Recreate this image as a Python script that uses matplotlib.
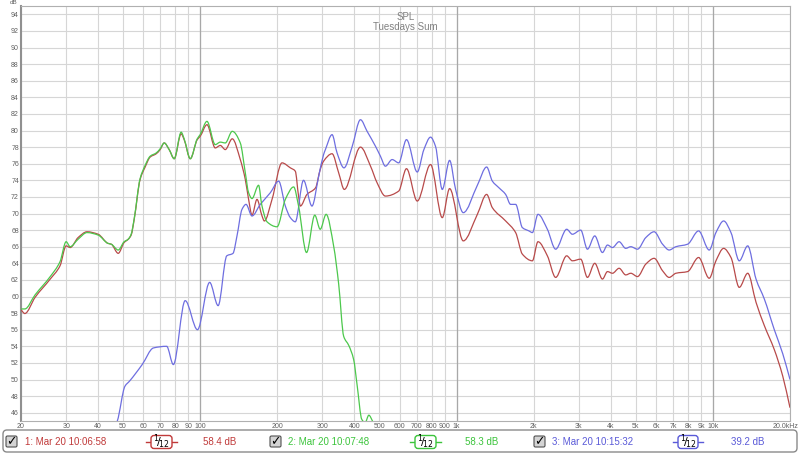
import numpy as np
import matplotlib
matplotlib.use('Agg')
import matplotlib.pyplot as plt
from matplotlib.patches import FancyBboxPatch, PathPatch
from matplotlib.path import Path
from matplotlib.transforms import ScaledTranslation

plt.rcParams['font.family'] = ['Liberation Sans', 'DejaVu Sans']

# trace 1 (red)
red_freq = [20, 20.7, 22.7, 26.0, 28.4, 30.0, 31.1, 33.4, 36.2, 40, 43.7, 45, 47.9, 50.5,
            52.4, 53.8, 55.3, 58.3, 61.0, 63.8, 67.4, 69.8, 72.4, 75.7, 79.2, 84.3, 86.6,
            91.5, 97.4, 100, 106.3, 114.5, 119.8, 125.3, 133.4, 143.4, 150, 154.5, 159.3,
            166.6, 174.3, 178, 190.7, 208.6, 224.8, 235, 242, 246, 261, 282, 294, 303, 327,
            347, 365, 422, 462, 490, 528, 595, 638, 703, 792, 880, 940, 1063, 1206, 1311,
            1380, 1555, 1701, 1807, 1977, 2079, 2262, 2437, 2691, 2832, 3052, 3242, 3462,
            3710, 3881, 4060, 4308, 4574, 4785, 5082, 5476, 5902, 6366, 6755, 7175, 7970,
            8800, 9680, 10282, 11020, 11770, 12680, 13680, 14740, 15880, 17370, 18740, 20000]
red_db = [58.4, 57.95, 59.9, 62.1, 63.7, 66.1, 65.9, 67.1, 67.8, 67.5, 66.4, 66.3, 65.2, 66.5,
          66.9, 67.4, 69.3, 74.1, 75.6, 76.8, 77.2, 77.7, 78.5, 77.7, 76.6, 79.6, 78.9,
          76.6, 78.9, 79.3, 80.7, 77.9, 78.2, 77.7, 79.0, 76.5, 74.1, 71.7, 69.8,
          71.7, 69.7, 69.1, 71.7, 76.1, 75.5, 75.1, 72.1, 70.9, 72.3, 73.1, 75.3, 76.3, 77.2,
          74.9, 72.9, 78.0, 75.7, 73.7, 72.1, 72.7, 75.4, 71.5, 75.9, 69.5, 73.0, 66.7, 69.9, 72.3,
          70.7, 69.1, 67.7, 65.1, 64.3, 66.6, 64.9, 62.3, 64.9, 64.3, 64.5, 62.3, 64.0,
          62.1, 63.0, 62.8, 63.4, 62.6, 62.8, 62.4, 63.9, 64.6, 63.1, 62.3, 62.8, 63.0,
          64.7, 62.2, 64.3, 65.8, 64.7, 61.1, 62.8, 59.3, 56.5, 53.6, 50.4, 46.6]

# trace 2 (green)
green_freq = [20, 20.7, 22.7, 26.0, 28.4, 30.0, 31.1, 33.4, 36.2, 40, 43.7, 45, 47.9, 50.5,
              52.4, 53.8, 55.3, 58.3, 61.0, 63.8, 67.4, 69.8, 72.4, 75.7, 79.2, 84.3, 86.6,
              91.5, 97.4, 100, 106.3, 114.5, 119.8, 125.3, 133.4, 143.4, 150, 154.5, 159.3,
              169, 174, 182.3, 199.5, 214.9, 231.6, 242, 260, 280, 294, 310, 332, 347, 363,
              380, 397, 410, 427, 440, 455, 470, 490, 520]
green_db = [58.5, 58.5, 60.2, 62.4, 64.2, 66.6, 66.0, 66.9, 67.7, 67.4, 66.4, 66.3, 65.6, 66.6,
            66.9, 67.5, 69.4, 74.2, 75.8, 76.9, 77.3, 77.8, 78.5, 77.7, 76.6, 79.8, 79.0,
            76.6, 79.0, 79.5, 81.1, 78.3, 78.6, 78.5, 79.9, 78.5, 74.9, 72.5, 71.8,
            73.4, 71.0, 69.0, 68.4, 71.7, 73.2, 70.9, 65.3, 69.8, 68.1, 69.9, 66.0, 61.5, 55.2,
            54.1, 52.4, 49.2, 45.2, 44.8, 45.7, 45.0, 43.5, 42.0]

# trace 3 (blue)
blue_freq = [45, 47.5, 50.9, 53, 59.4, 65.7, 74, 78.6, 87.4, 97.6, 108.9, 117.5, 127, 134.3,
             139.2, 145.6, 151, 159.3, 171.6, 187.8, 202.4, 214.9, 224.8, 235, 253, 273, 290,
             303, 308, 327, 342, 364, 392, 422, 448, 483, 505, 528, 561, 595, 638, 703, 746,
             792, 828, 880, 940, 992, 1063, 1206, 1311, 1380, 1464, 1555, 1626, 1701, 1807,
             1917, 1977, 2079, 2262, 2437, 2691, 2832, 3052, 3242, 3462, 3710, 3881, 4060,
             4308, 4574, 4785, 5082, 5476, 5902, 6366, 6755, 7175, 7970, 8800, 9680, 10282,
             11020, 11770, 12680, 13680, 14740, 15880, 17370, 18740, 20000]
blue_db = [43.5, 45.0, 49.2, 49.8, 51.8, 53.8, 54.0, 51.8, 59.5, 56.0, 61.7, 58.9, 64.9, 65.2,
           67.3, 70.5, 71.1, 69.7, 71.1, 72.5, 73.9, 70.9, 69.5, 69.0, 74.0, 70.9, 74.5,
           77.1, 77.7, 79.5, 77.3, 75.5, 78.1, 81.3, 79.9, 78.1, 76.9, 75.7, 76.5, 76.1, 78.9, 75.0, 77.7,
           79.2, 78.1, 72.9, 76.4, 72.9, 70.1, 73.4, 75.6, 73.9, 73.1, 72.3, 71.1, 71.1, 68.3,
           67.9, 67.7, 69.9, 68.1, 65.7, 68.1, 67.5, 68.0, 65.7, 67.3, 65.3, 66.2, 65.9,
           66.6, 65.8, 66.0, 65.7, 67.1, 67.8, 66.3, 65.6, 66.0, 66.3, 67.9, 65.6, 67.7,
           69.1, 67.7, 64.3, 66.1, 62.1, 59.7, 56.0, 53.1, 50.0]

x_ticks = [20, 30, 40, 50, 60, 70, 80, 90, 100, 200, 300, 400, 500, 600, 700, 800, 900,
           1000, 2000, 3000, 4000, 5000, 6000, 7000, 8000, 9000, 10000, 20000]
x_labels = ['20', '30', '40', '50', '60', '70', '80', '90', '100', '200', '300', '400', '500',
            '600', '700', '800', '900', '1k', '2k', '3k', '4k', '5k', '6k', '7k', '8k', '9k',
            '10k', '20.0kHz']
y_ticks = list(range(46, 95, 2))

names = ['1: Mar 20 10:06:58', '2: Mar 20 10:07:48', '3: Mar 20 10:15:32']
levels = ['58.4 dB', '58.3 dB', '39.2 dB']
line_colors = ['#b84a4a', '#4cc84c', '#6e6ee0']
text_colors = ['#c03a3a', '#3cc43c', '#5a5ad8']


def smooth_path(freq, db):
    # monotone cubic through the read points, built in log-frequency space
    u = np.log10(np.asarray(freq, float))
    y = np.asarray(db, float)
    h = np.diff(u)
    d = np.diff(y) / h
    m = np.zeros_like(y)
    m[0], m[-1] = d[0], d[-1]
    for i in range(1, len(y) - 1):
        if d[i - 1] * d[i] > 0:
            w1 = 2 * h[i] + h[i - 1]
            w2 = h[i] + 2 * h[i - 1]
            m[i] = (w1 + w2) / (w1 / d[i - 1] + w2 / d[i])
    verts = [(freq[0], y[0])]
    codes = [Path.MOVETO]
    for i in range(len(h)):
        verts += [(10 ** (u[i] + h[i] / 3), y[i] + m[i] * h[i] / 3),
                  (10 ** (u[i + 1] - h[i] / 3), y[i + 1] - m[i + 1] * h[i] / 3),
                  (freq[i + 1], y[i + 1])]
        codes += [Path.CURVE4] * 3
    return Path(verts, codes)


fig = plt.figure(figsize=(8, 4.55), dpi=100)
ax = fig.add_axes([21 / 800, 1 - 421 / 455, 769 / 800, 415 / 455])
ax.set_xscale('log')
ax.set_xlim(20, 20000)
ax.set_ylim(45, 95)

ax.set_xticks(x_ticks)
ax.set_xticklabels(x_labels)
ax.minorticks_off()
ax.set_yticks(y_ticks)
ax.tick_params(length=0, labelsize=5, colors='#606060', pad=1.5)
last = ax.get_xticklabels()[-1]
last.set_transform(last.get_transform() + ScaledTranslation(-4 / 100, 0, fig.dpi_scale_trans))
ax.grid(True, color='#d6d6d6', lw=0.8)
for f in [100, 1000, 10000]:
    ax.axvline(f, color='#a8a8a8', lw=0.9, zorder=1)
ax.set_axisbelow(True)
for side in ['top', 'right', 'bottom']:
    ax.spines[side].set_color('#b0b0b0')
    ax.spines[side].set_linewidth(0.8)
ax.spines['left'].set_color('#909090')
ax.spines['left'].set_linewidth(1.5)

for fr, db, col, z in [(red_freq, red_db, line_colors[0], 3),
                       (green_freq, green_db, line_colors[1], 4),
                       (blue_freq, blue_db, line_colors[2], 3)]:
    ax.add_patch(PathPatch(smooth_path(fr, db), fill=False, edgecolor=col, lw=0.9, zorder=z))

ax.text(0.5, 0.985, 'SPL', transform=ax.transAxes, ha='center', va='top',
        fontsize=7, color='#808080')
ax.text(0.5, 0.962, 'Tuesdays Sum', transform=ax.transAxes, ha='center', va='top',
        fontsize=7, color='#808080')
fig.text(14 / 800, 1 - 2 / 455, 'dB', fontsize=4.5, color='#606060', ha='center', va='center')

# legend strip drawn in pixel coordinates
lay = fig.add_axes([0, 0, 1, 1])
lay.set_xlim(0, 800)
lay.set_ylim(455, 0)
lay.axis('off')
lay.add_patch(FancyBboxPatch((3, 430), 794, 22, boxstyle='round,pad=0,rounding_size=4',
                             ec='#8a8a8a', fc='white', lw=1))

box_x = [6, 270, 534]
name_x = [25, 288, 552]
icon_x = [(146, 177), (410, 441), (673, 703)]
level_x = [203, 465, 731]
yc = 442
for i in range(3):
    lay.add_patch(FancyBboxPatch((box_x[i], 436), 11, 11,
                                 boxstyle='round,pad=0,rounding_size=1.5',
                                 ec='#505050', fc='#d4d4d4', lw=0.8))
    lay.text(box_x[i] + 5.8, yc, '\u2713', ha='center', va='center', fontsize=9,
             fontweight='bold', color='black', family='DejaVu Sans')
    lay.text(name_x[i], yc, names[i], ha='left', va='center', fontsize=7, color=text_colors[i])
    x0, x1 = icon_x[i]
    lay.plot([x0, x1], [yc, yc], color=text_colors[i], lw=1)
    lay.add_patch(FancyBboxPatch((x0 + 5, 435.5), x1 - x0 - 10, 13,
                                 boxstyle='round,pad=0,rounding_size=3',
                                 ec=text_colors[i], fc='white', lw=1, zorder=3))
    lay.text((x0 + x1) / 2, yc, r'${}^{1}\!/\!{}_{12}$', ha='center', va='center',
             fontsize=8, color='black', zorder=4)
    lay.text(level_x[i], yc, levels[i], ha='left', va='center', fontsize=7, color=text_colors[i])

fig.savefig('out.png', dpi=100)
